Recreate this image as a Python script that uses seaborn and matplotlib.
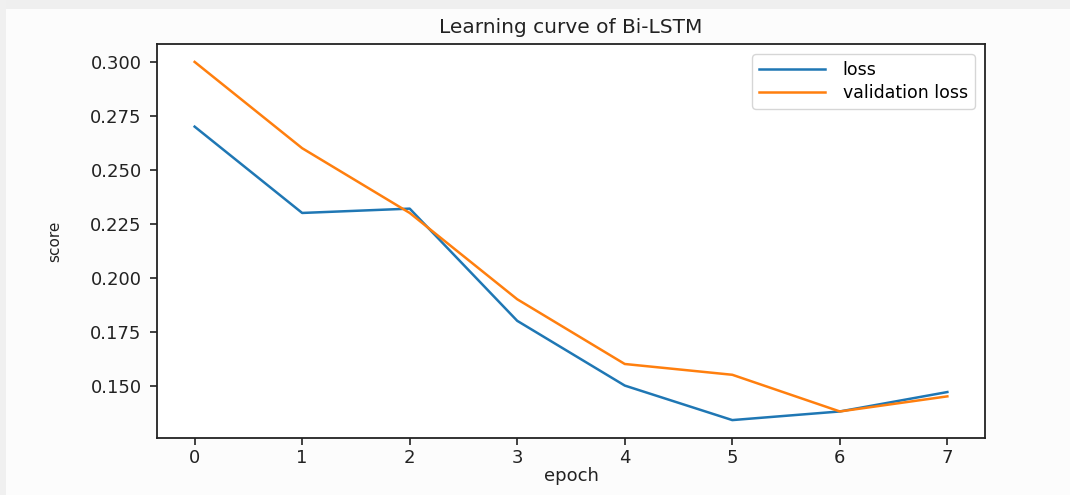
import matplotlib
matplotlib.use("Agg")
import matplotlib.pyplot as plt
import seaborn as sns
import pandas as pd
from matplotlib.patches import Rectangle

epochs = [0, 1, 2, 3, 4, 5, 6, 7]
loss = [0.270, 0.230, 0.232, 0.180, 0.150, 0.134, 0.138, 0.147]
val_loss = [0.300, 0.260, 0.230, 0.190, 0.160, 0.155, 0.138, 0.145]
y_ticks = [0.150, 0.175, 0.200, 0.225, 0.250, 0.275, 0.300]

df = pd.DataFrame({"epoch": epochs + epochs,
                   "score": loss + val_loss,
                   "series": ["loss"] * len(epochs) + ["validation loss"] * len(epochs)})

plt.rcParams["font.family"] = ["DejaVu Sans"]

W, H = 1070, 495
fig = plt.figure(figsize=(W / 100, H / 100), dpi=100, facecolor="#fcfcfc")
# light bands along the top and left edges
fig.patches.append(Rectangle((0, 1 - 9 / H), 1, 9 / H, transform=fig.transFigure,
                             facecolor="#efefef", edgecolor="none", zorder=0))
fig.patches.append(Rectangle((0, 0), 6 / W, 1, transform=fig.transFigure,
                             facecolor="#f0f0f0", edgecolor="none", zorder=0))
ax = fig.add_axes([157 / W, 1 - 438 / H, (985 - 157) / W, (438 - 44) / H])
ax.set_facecolor("white")

sns.lineplot(data=df, x="epoch", y="score", hue="series",
             palette=["#1f77b4", "#ff7f0e"], linewidth=1.8, ax=ax)

ax.set_xticks(epochs)
ax.set_yticks(y_ticks)
ax.set_yticklabels([f"{v:.3f}" for v in y_ticks])
ax.tick_params(labelsize=13, length=5, width=1.2, colors="#222222")
ax.tick_params(axis="y", pad=6)
ax.tick_params(axis="x", pad=3)
for s in ax.spines.values():
    s.set_linewidth(1.3)
    s.set_color("#222222")

ax.set_title("Learning curve of Bi-LSTM", fontsize=14.5, color="#222222", pad=8)
ax.set_xlabel("epoch", fontsize=13, color="#222222", labelpad=0)
ax.set_ylabel("score", fontsize=11, color="#222222", labelpad=20)
ax.legend(title=None, loc="upper right", fontsize=12.5, frameon=True,
          handlelength=3.8, handletextpad=1.0, labelspacing=0.25,
          borderaxespad=0.6)

fig.savefig("out.png", dpi=100, facecolor=fig.get_facecolor())
